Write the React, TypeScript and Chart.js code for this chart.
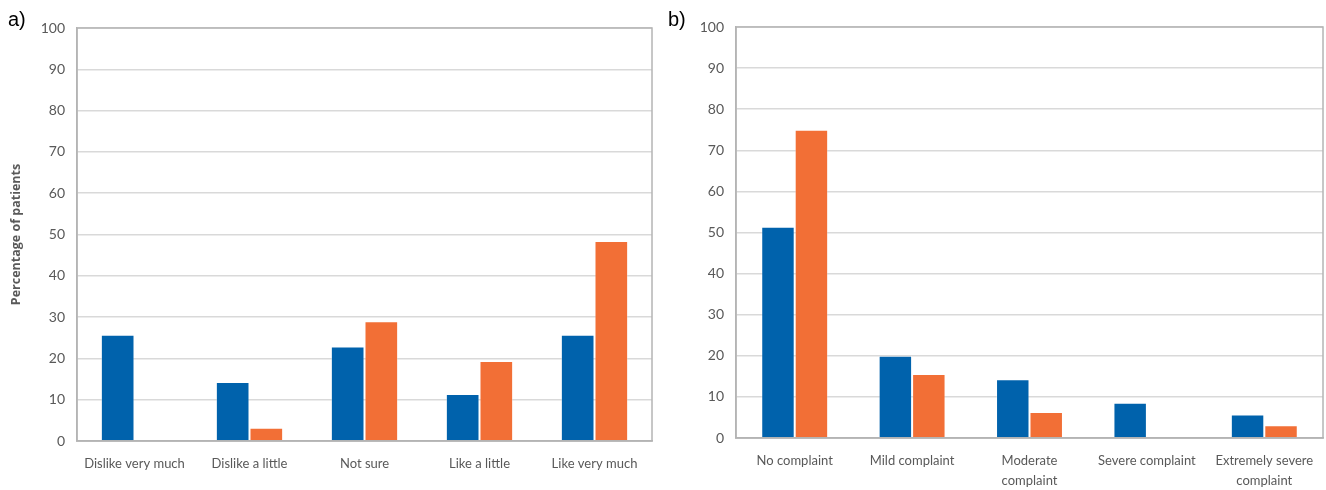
import React, { useEffect, useRef } from "react";
import { Chart, registerables } from "chart.js";

Chart.register(...registerables);

const likingCategories = ["Dislike very much", "Dislike a little", "Not sure", "Like a little", "Like very much"];
const likingBlue = [25.7, 14.3, 22.9, 11.4, 25.7];
const likingOrange = [0, 3.2, 29.0, 19.4, 48.4];

const complaintCategories = [
  "No complaint",
  "Mild complaint",
  ["Moderate", "complaint"],
  "Severe complaint",
  ["Extremely severe", "complaint"],
];
const complaintBlue = [51.4, 20.0, 14.3, 8.6, 5.7];
const complaintOrange = [75.0, 15.6, 6.3, 0, 3.1];

const yTicks = [0, 10, 20, 30, 40, 50, 60, 70, 80, 90, 100];

const BLUE = "#0062AC";
const ORANGE = "#F26F36";
const TEXT = "#595959";
const FONT = "Lato, 'Open Sans', sans-serif";

const framePlugin = {
  id: "frame",
  afterDraw(chart: any) {
    const { ctx, chartArea } = chart;
    ctx.save();
    ctx.strokeStyle = "#b4b4b4";
    ctx.lineWidth = 1.5;
    ctx.strokeRect(chartArea.left, chartArea.top, chartArea.right - chartArea.left, chartArea.bottom - chartArea.top);
    ctx.restore();
  },
};

function makeConfig(
  labels: any[],
  blue: number[],
  orange: number[],
  opts: { yWidth: number; xHeight: number; top: number; right: number; title: string; catPct: number }
): any {
  return {
    type: "bar",
    data: {
      labels,
      datasets: [
        { data: blue, backgroundColor: BLUE, borderColor: "rgba(255,255,255,0.3)", borderWidth: 1, barPercentage: 1, categoryPercentage: opts.catPct },
        { data: orange, backgroundColor: ORANGE, borderColor: "rgba(255,255,255,0.3)", borderWidth: 1, barPercentage: 1, categoryPercentage: opts.catPct },
      ],
    },
    options: {
      responsive: false,
      animation: false,
      layout: { padding: { top: opts.top, right: opts.right, left: 0, bottom: 0 } },
      plugins: { legend: { display: false }, tooltip: { enabled: false } },
      scales: {
        x: {
          grid: { display: false, drawTicks: false },
          border: { display: true, color: "#b4b4b4", width: 1.5 },
          ticks: { color: TEXT, font: { family: FONT, size: 13, lineHeight: 1.6 }, padding: 12, maxRotation: 0, autoSkip: false },
          afterFit(scale: any) {
            scale.height = opts.xHeight;
          },
        },
        y: {
          min: 0,
          max: 100,
          afterBuildTicks(scale: any) {
            scale.ticks = yTicks.map((v) => ({ value: v }));
          },
          grid: { color: "#d9d9d9", lineWidth: 1.5, drawTicks: false },
          border: { display: true, color: "#b4b4b4", width: 1.5 },
          ticks: { color: TEXT, font: { family: FONT, size: 14 }, padding: 12 },
          title: {
            display: opts.title !== "",
            text: opts.title,
            color: TEXT,
            font: { family: "'Open Sans', sans-serif", size: 12.5, weight: "bold" },
            padding: { top: 9, bottom: 0 },
          },
          afterFit(scale: any) {
            scale.width = opts.yWidth;
          },
        },
      },
    },
    plugins: [framePlugin],
  };
}

export default function App() {
  const leftRef = useRef<HTMLCanvasElement>(null);
  const rightRef = useRef<HTMLCanvasElement>(null);

  useEffect(() => {
    const c1 = new Chart(
      leftRef.current as HTMLCanvasElement,
      makeConfig(likingCategories, likingBlue, likingOrange, {
        yWidth: 77,
        xHeight: 49,
        top: 28,
        right: 8,
        title: "Percentage of patients",
        catPct: 0.585,
      })
    );
    const c2 = new Chart(
      rightRef.current as HTMLCanvasElement,
      makeConfig(complaintCategories, complaintBlue, complaintOrange, {
        yWidth: 76,
        xHeight: 52,
        top: 27,
        right: 3,
        title: "",
        catPct: 0.57,
      })
    );
    return () => {
      c1.destroy();
      c2.destroy();
    };
  }, []);

  return (
    <div style={{ position: "fixed", left: 0, top: 0, width: 1326, height: 490, background: "#fff" }}>
      <canvas ref={leftRef} width={660} height={490} style={{ position: "absolute", left: 0, top: 0, width: 660, height: 490 }} />
      <canvas ref={rightRef} width={666} height={490} style={{ position: "absolute", left: 660, top: 0, width: 666, height: 490 }} />
      <div style={{ position: "absolute", left: 8, top: 8, fontFamily: "'Liberation Sans', Arial, sans-serif", fontSize: 20, color: "#000" }}>a)</div>
      <div style={{ position: "absolute", left: 668, top: 8, fontFamily: "'Liberation Sans', Arial, sans-serif", fontSize: 20, color: "#000" }}>b)</div>
    </div>
  );
}
